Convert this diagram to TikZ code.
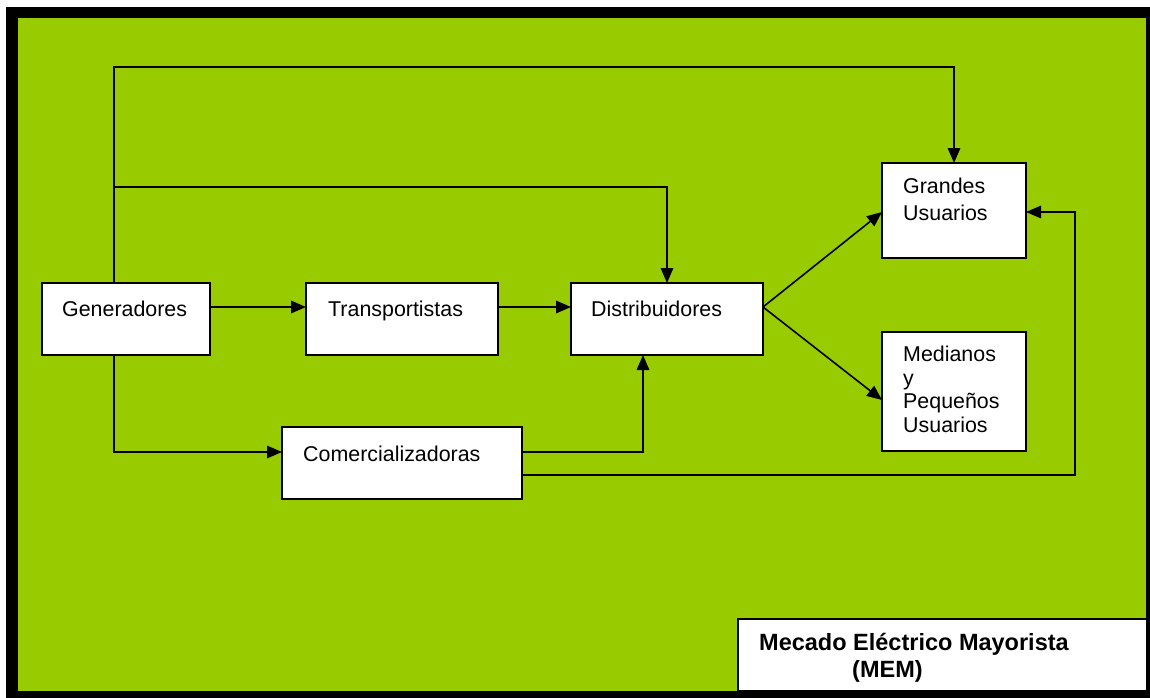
\documentclass[tikz,border=0pt]{standalone}
\usepackage{fontspec}
\setmainfont{Liberation Sans}
\usetikzlibrary{arrows.meta}
\definecolor{memgreen}{RGB}{153,204,0}
\begin{document}
\begin{tikzpicture}[x=1pt,y=-1pt,
  box/.style={draw=black, fill=white, line width=1.6pt, anchor=north west,
              inner sep=0pt, outer sep=0pt},
  lbl/.style={anchor=base west, inner sep=0pt, font=\fontsize{21.4}{24}\selectfont},
  memlbl/.style={anchor=base west, inner sep=0pt, font=\bfseries\fontsize{23.5}{26}\selectfont},
  arr/.style={line width=1.6pt, -{Triangle[length=15pt,width=12.5pt]}}]
\useasboundingbox (0,0) rectangle (1150,698);
% frame and background
\fill[white] (0,0) rectangle (1150,698);
\fill[black] (6,7) rectangle (1150,698);
\fill[memgreen] (18,18) rectangle (1146,691);

% boxes
\node[box, minimum width=168, minimum height=72] (gen)   at (42,283)  {};
\node[box, minimum width=192, minimum height=72] (trans) at (306,283) {};
\node[box, minimum width=192, minimum height=72] (dist)  at (571,283) {};
\node[box, minimum width=240, minimum height=72] (com)   at (282,427) {};
\node[box, minimum width=144, minimum height=95] (gu)    at (882,163) {};
\node[box, minimum width=144, minimum height=119] (mp)   at (882,332) {};
\node[box, minimum width=409, minimum height=72] (mem)   at (738,619) {};

% labels
\node[lbl] (genT)   at (62,316)  {Generadores};
\node[lbl] (transT) at (328,316) {Transportistas};
\node[lbl] (distT)  at (591,316) {Distribuidores};
\node[lbl] (comT)   at (303,461) {Comercializadoras};
\node[lbl] (guT1)   at (903,193) {Grandes};
\node[lbl] (guT2)   at (903,220) {Usuarios};
\node[lbl] (mpT1)   at (903,361) {Medianos};
\node[lbl] (mpT2)   at (903,385) {y};
\node[lbl] (mpT3)   at (903,408) {Pequeños};
\node[lbl] (mpT4)   at (903,432) {Usuarios};
\node[memlbl] (memT1) at (759,650) {Mecado Eléctrico Mayorista};
\node[memlbl] (memT2) at (852,677) {(MEM)};

% routing points
\coordinate (top) at (114,67);
\coordinate (mid) at (114,187);
\coordinate (row) at (0,307);
\coordinate (cA)  at (643,452);
\coordinate (cB)  at (1075,475);
\coordinate (gIn) at (0,212);
\coordinate (mIn) at (0,400);

% connectors
\draw[arr] (gen.north -| top) -- (top) -| (gu.north);
\draw[arr] (mid) -| (dist.north);
\draw[arr] (gen.east |- row) -- (trans.west |- row);
\draw[arr] (trans.east |- row) -- (dist.west |- row);
\draw[arr] (gen.south -| top) |- (com.west |- cA);
\draw[arr] (com.east |- cA) -- (cA) -- (dist.south -| cA);
\draw[arr] (com.east |- cB) -- (cB) |- (gu.east |- gIn);
\draw[arr] (dist.east |- row) -- (gu.west |- gIn);
\draw[arr] (dist.east |- row) -- (mp.west |- mIn);
\end{tikzpicture}
\end{document}
